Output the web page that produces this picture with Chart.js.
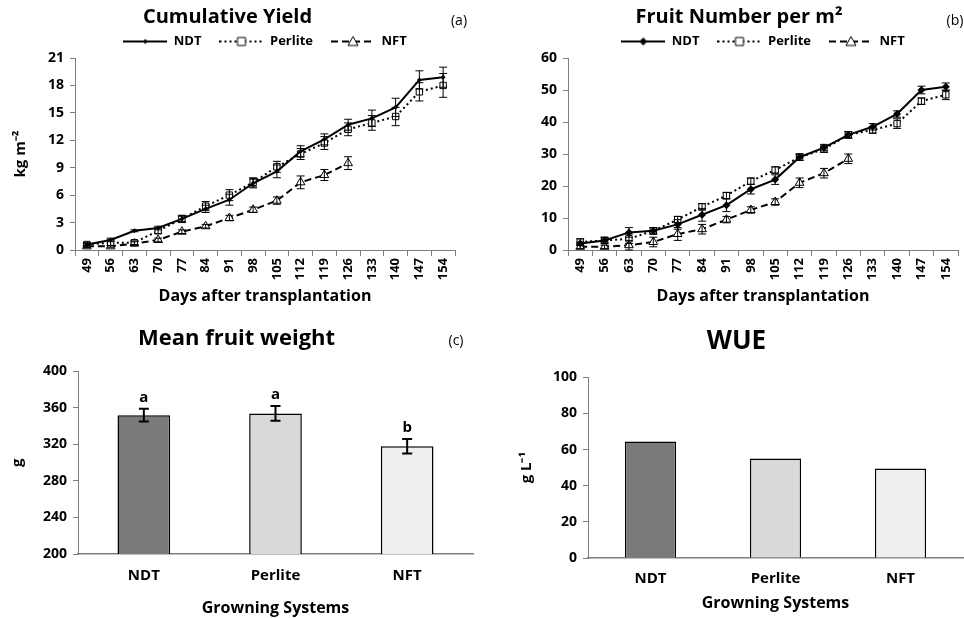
<!DOCTYPE html>
<html>
<head>
<meta charset="utf-8">
<script src="https://cdn.jsdelivr.net/npm/chart.js@4.4.1/dist/chart.umd.min.js"></script>
<style>
  body { margin: 0; background: #fff; }
  .box { position: absolute; }
</style>
</head>
<body>
<div class="box" style="left:0;top:0"><canvas id="yieldChart" width="480" height="310"></canvas></div>
<div class="box" style="left:480px;top:0"><canvas id="fruitChart" width="484" height="310"></canvas></div>
<div class="box" style="left:0;top:310px"><canvas id="weightChart" width="480" height="308"></canvas></div>
<div class="box" style="left:480px;top:310px"><canvas id="wueChart" width="484" height="308"></canvas></div>
<script>
const days = ['49', '56', '63', '70', '77', '84', '91', '98', '105', '112', '119', '126', '133', '140', '147', '154'];
const seriesNames = ['NDT', 'Perlite', 'NFT'];

// cumulative yield, kg m-2
const yieldNdt = [0.6, 1.1, 2.1, 2.4, 3.4, 4.5, 5.5, 7.3, 8.6, 10.8, 12.1, 13.7, 14.4, 15.6, 18.6, 18.9];
const yieldPerlite = [0.6, 0.8, 0.8, 2.1, 3.4, 4.8, 6.0, 7.4, 9.1, 10.5, 11.7, 13.2, 13.9, 14.6, 17.3, 18.0];
const yieldNft = [0.4, 0.4, 0.7, 1.1, 2.0, 2.6, 3.5, 4.4, 5.4, 7.4, 8.2, 9.5];
const yieldNdtErr = [0.1, 0.2, 0.1, 0.2, 0.3, 0.4, 0.6, 0.5, 0.7, 0.6, 0.6, 0.6, 0.9, 1.0, 1.0, 1.1];
const yieldPerliteErr = [0.2, 0.3, 0.2, 0.3, 0.4, 0.5, 0.6, 0.5, 0.6, 0.6, 0.7, 0.7, 0.8, 1.0, 1.0, 1.3];
const yieldNftErr = [0.1, 0.1, 0.2, 0.2, 0.2, 0.2, 0.3, 0.3, 0.4, 0.7, 0.6, 0.7];

// fruit number per m2
const fruitNdt = [2, 3, 5.5, 6, 8, 11, 14, 19, 22, 29, 32, 36, 38.5, 42.5, 50, 51];
const fruitPerlite = [2.5, 3, 3.5, 6, 9.5, 13.5, 17, 21.5, 25, 29, 31.5, 36, 37.5, 39.5, 46.5, 48.5];
const fruitNft = [1, 1, 1.5, 2.5, 5, 6.5, 9.5, 12.5, 15, 21, 24, 28.5];
const fruitNdtErr = [0.5, 0.8, 1.5, 1, 1.5, 2, 2, 1.5, 1.5, 1, 1, 1, 1, 1, 1.2, 1.2];
const fruitPerliteErr = [1, 1, 1.5, 1, 1, 1, 1, 1, 1, 1, 1, 1, 1, 1.5, 1, 1.5];
const fruitNftErr = [0.5, 0.5, 1.5, 1.5, 2, 1.5, 1, 1, 1, 1.5, 1.5, 1.5];

// mean fruit weight, g
const systems = ['NDT', 'Perlite', 'NFT'];
const weightValues = [352, 354, 318];
const weightErr = [7, 8, 8];
const weightLetters = ['a', 'a', 'b'];

// water use efficiency, g L-1
const wueValues = [64.5, 55, 49.5];

const barColors = ['#7a7a7a', '#d9d9d9', '#efefef'];
const axisGray = '#7f7f7f';
const FONT = "'Open Sans', sans-serif";

Chart.defaults.font.family = FONT;
Chart.defaults.color = '#000';
Chart.defaults.animation = false;

function drawMarker(g, type, x, y, r) {
  g.beginPath();
  if (type === 'diamond') {
    g.moveTo(x, y - r); g.lineTo(x + r, y); g.lineTo(x, y + r); g.lineTo(x - r, y); g.closePath();
    g.fillStyle = '#000'; g.fill();
  } else if (type === 'square') {
    g.rect(x - r, y - r, 2 * r, 2 * r);
    g.fillStyle = '#fff'; g.fill(); g.lineWidth = 1; g.stroke();
  } else {
    g.moveTo(x, y - r); g.lineTo(x + r, y + r * 0.8); g.lineTo(x - r, y + r * 0.8); g.closePath();
    g.fillStyle = '#fff'; g.fill(); g.lineWidth = 1; g.stroke();
  }
}

function legendIcon(dash, marker, r) {
  const c = document.createElement('canvas');
  c.width = 44;
  c.height = 12;
  const g = c.getContext('2d');
  g.strokeStyle = '#000';
  g.lineWidth = 2;
  g.setLineDash(dash);
  g.beginPath();
  g.moveTo(0, 6);
  g.lineTo(44, 6);
  g.stroke();
  g.setLineDash([]);
  drawMarker(g, marker, 22, 6, r);
  return c;
}

const errorBars = {
  id: 'errorBars',
  afterDatasetsDraw(chart) {
    const ctx = chart.ctx;
    const y = chart.scales.y;
    ctx.save();
    ctx.strokeStyle = '#000';
    chart.data.datasets.forEach((ds, i) => {
      if (!ds.errors) return;
      const meta = chart.getDatasetMeta(i);
      ctx.lineWidth = ds.errorWidth || 1;
      const cap = ds.errorCap || 4;
      meta.data.forEach((el, j) => {
        const v = ds.data[j];
        const e = ds.errors[j];
        if (v == null || e == null) return;
        const top = y.getPixelForValue(v + e);
        const bot = y.getPixelForValue(v - e);
        ctx.beginPath();
        ctx.moveTo(el.x, top); ctx.lineTo(el.x, bot);
        ctx.moveTo(el.x - cap, top); ctx.lineTo(el.x + cap, top);
        ctx.moveTo(el.x - cap, bot); ctx.lineTo(el.x + cap, bot);
        ctx.stroke();
      });
    });
    ctx.restore();
  },
};

const panelTag = {
  id: 'panelTag',
  afterDraw(chart, args, opts) {
    if (!opts.text) return;
    const ctx = chart.ctx;
    ctx.save();
    ctx.font = `14px ${FONT}`;
    ctx.fillStyle = '#000';
    ctx.textAlign = 'center';
    ctx.textBaseline = 'middle';
    ctx.fillText(opts.text, opts.x, opts.y);
    ctx.restore();
  },
};

const letters = {
  id: 'letters',
  afterDatasetsDraw(chart, args, opts) {
    if (!opts.labels) return;
    const ctx = chart.ctx;
    const ds = chart.data.datasets[0];
    const meta = chart.getDatasetMeta(0);
    ctx.save();
    ctx.font = `bold 15px ${FONT}`;
    ctx.fillStyle = '#000';
    ctx.textAlign = 'center';
    ctx.textBaseline = 'bottom';
    meta.data.forEach((el, j) => {
      const top = chart.scales.y.getPixelForValue(ds.data[j] + ds.errors[j]);
      ctx.fillText(opts.labels[j], el.x, top - 4);
    });
    ctx.restore();
  },
};

function lineDatasets(values, errs, markerSize) {
  return [
    {
      label: seriesNames[0], data: values[0], errors: errs[0],
      borderColor: '#000', borderWidth: 2, backgroundColor: '#000',
      pointStyle: 'rectRot', pointRadius: markerSize, pointBorderWidth: 0,
    },
    {
      label: seriesNames[1], data: values[1], errors: errs[1],
      borderColor: '#000', borderWidth: 2, borderDash: [2, 3], backgroundColor: '#fff',
      pointStyle: 'rect', pointRadius: 4.5, pointBorderWidth: 1,
    },
    {
      label: seriesNames[2], data: values[2], errors: errs[2],
      borderColor: '#000', borderWidth: 2, borderDash: [7, 4], backgroundColor: '#fff',
      pointStyle: 'triangle', pointRadius: 5, pointBorderWidth: 1,
    },
  ];
}

function lineOptions(cfg) {
  const icons = [
    legendIcon([], 'diamond', cfg.iconDiamond),
    legendIcon([2, 3], 'square', 4),
    legendIcon([7, 4], 'triangle', 5),
  ];
  return {
    responsive: false,
    layout: { padding: cfg.padding },
    plugins: {
      title: {
        display: true, text: cfg.title, font: { size: 20, weight: 'bold' },
        padding: { top: 5, bottom: -12 }, color: '#000',
      },
      legend: {
        fullSize: false,
        labels: {
          usePointStyle: true, pointStyleWidth: 44, padding: 18,
          font: { size: 13, weight: 'bold' },
          generateLabels: (chart) => Chart.defaults.plugins.legend.labels.generateLabels(chart)
            .map((item, i) => ({ ...item, pointStyle: icons[i] })),
        },
      },
      tooltip: { enabled: false },
      panelTag: cfg.tag,
    },
    scales: {
      x: {
        offset: true,
        afterFit: (scale) => { scale.height = 60; },
        grid: { offset: true, drawOnChartArea: false, tickLength: 6, color: axisGray },
        border: { color: axisGray },
        ticks: { minRotation: 90, maxRotation: 90, font: { size: 13, weight: 'bold' }, padding: 2 },
        title: {
          display: true, text: 'Days after transplantation',
          font: { size: 16, weight: 'bold' }, padding: { top: 0, bottom: 4 },
        },
      },
      y: {
        min: 0, max: cfg.max,
        afterFit: (scale) => { scale.width = cfg.yWidth; },
        grid: { drawOnChartArea: false, tickLength: 5, color: axisGray },
        border: { color: axisGray },
        ticks: { stepSize: cfg.step, font: { size: 14, weight: 'bold' }, padding: 6 },
        title: {
          display: !!cfg.yTitle, text: cfg.yTitle,
          font: { size: 15, weight: 'bold' }, padding: { top: 12 },
        },
      },
    },
  };
}

new Chart(document.getElementById('yieldChart'), {
  type: 'line',
  data: {
    labels: days,
    datasets: lineDatasets([yieldNdt, yieldPerlite, yieldNft], [yieldNdtErr, yieldPerliteErr, yieldNftErr], 2.5),
  },
  options: lineOptions({
    title: 'Cumulative Yield', max: 21, step: 3, yTitle: 'kg m⁻²', yWidth: 75, iconDiamond: 2.5,
    padding: { left: 0, right: 25, top: 0, bottom: 0 },
    tag: { text: '(a)', x: 459, y: 21 },
  }),
  plugins: [errorBars, panelTag],
});

new Chart(document.getElementById('fruitChart'), {
  type: 'line',
  data: {
    labels: days,
    datasets: lineDatasets([fruitNdt, fruitPerlite, fruitNft], [fruitNdtErr, fruitPerliteErr, fruitNftErr], 4),
  },
  options: lineOptions({
    title: 'Fruit Number per m²', max: 60, step: 10, yTitle: '', yWidth: 48, iconDiamond: 4,
    padding: { left: 40, right: 6, top: 0, bottom: 0 },
    tag: { text: '(b)', x: 475, y: 21 },
  }),
  plugins: [errorBars, panelTag],
});

function barOptions(cfg) {
  return {
    responsive: false,
    layout: { padding: cfg.padding },
    plugins: {
      title: {
        display: true, text: cfg.title, font: { size: cfg.titleSize, weight: 'bold' },
        padding: cfg.titlePad, color: '#000',
      },
      legend: { display: false },
      tooltip: { enabled: false },
      panelTag: cfg.tag,
      letters: { labels: cfg.letters },
    },
    scales: {
      x: {
        afterFit: (scale) => { scale.height = cfg.xHeight; },
        grid: { display: false },
        border: { color: axisGray, width: 1.5 },
        ticks: { font: { size: 15, weight: 'bold' }, padding: cfg.xTickPad },
        title: {
          display: true, text: 'Growning Systems',
          font: { size: 16, weight: 'bold' }, padding: { top: 0, bottom: cfg.xTitlePad },
        },
      },
      y: {
        min: cfg.min, max: cfg.max,
        afterFit: (scale) => { scale.width = cfg.yWidth; },
        grid: { drawOnChartArea: false, tickLength: 5, color: axisGray },
        border: { color: axisGray },
        ticks: { stepSize: cfg.step, font: { size: 14, weight: 'bold' }, padding: 6 },
        title: {
          display: true, text: cfg.yTitle,
          font: { size: 15, weight: 'bold' }, padding: { top: cfg.yTitlePad },
        },
      },
    },
  };
}

new Chart(document.getElementById('weightChart'), {
  type: 'bar',
  data: {
    labels: systems,
    datasets: [{
      data: weightValues, errors: weightErr, errorWidth: 2, errorCap: 5,
      backgroundColor: barColors, borderColor: '#000', borderWidth: 1.5,
      categoryPercentage: 1, barPercentage: 0.4,
    }],
  },
  options: barOptions({
    title: 'Mean fruit weight', titleSize: 22, titlePad: { top: 16, bottom: 19 },
    min: 200, max: 400, step: 40, yTitle: 'g', yWidth: 78, yTitlePad: 9,
    xHeight: 64, xTickPad: 5, xTitlePad: 0,
    padding: { left: 0, right: 7, top: 0, bottom: 0 },
    tag: { text: '(c)', x: 456, y: 31 },
    letters: weightLetters,
  }),
  plugins: [errorBars, panelTag, letters],
});

new Chart(document.getElementById('wueChart'), {
  type: 'bar',
  data: {
    labels: systems,
    datasets: [{
      data: wueValues,
      backgroundColor: barColors, borderColor: '#000', borderWidth: 1.5,
      categoryPercentage: 1, barPercentage: 0.41,
    }],
  },
  options: barOptions({
    title: 'WUE', titleSize: 26, titlePad: { top: 16, bottom: 20 },
    min: 0, max: 100, step: 20, yTitle: 'g L⁻¹', yWidth: 78, yTitlePad: 8,
    xHeight: 60, xTickPad: 4, xTitlePad: 5,
    padding: { left: 30, right: 1, top: 0, bottom: 0 },
    tag: {},
    letters: null,
  }),
  plugins: [panelTag],
});
</script>
</body>
</html>
